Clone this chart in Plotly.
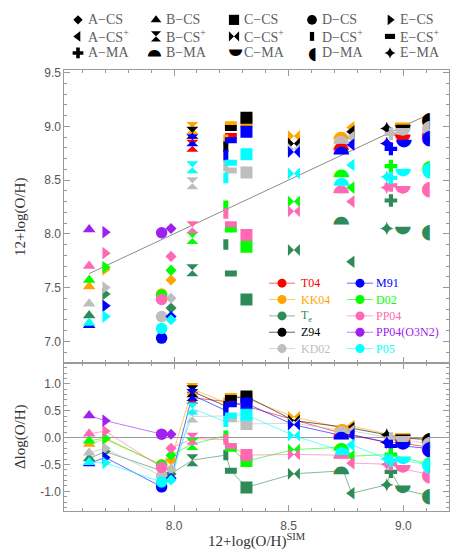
import plotly.graph_objects as go

W, H = 463, 556

# models, in the order of the key at the top, with their simulated 12+log(O/H)
models = ['A−CS', 'B−CS', 'C−CS', 'D−CS', 'E−CS',
          'A−CS<sup>+</sup>', 'B−CS<sup>+</sup>', 'C−CS<sup>+</sup>', 'D−CS<sup>+</sup>', 'E−CS<sup>+</sup>',
          'A−MA', 'B−MA', 'C−MA', 'D−MA', 'E−MA']
sim = [7.987, 7.630, 8.316, 7.946, 7.700,
       8.775, 8.080, 8.523, 8.226, 8.248,
       8.946, 8.738, 8.990, 9.100, 8.928]
symbols = ['diamond', 'triangle-up', 'square', 'circle', 'triangle-right',
           'triangle-left', 'hourglass', 'bowtie', 'line-ns', 'line-ew',
           'cross', 'half-up', 'half-down', 'half-left', 'star-diamond']

# 12+log(O/H) from each calibration, same model order (None = no value)
t04 = [None, None, None, None, None, None, 8.82, None, None, 8.91, None, 8.81, 8.89, 8.93, 8.84]
kk04 = [7.57, 7.51, 9.04, 7.44, 7.67, 8.99, 8.985, 8.91, 8.875, 9.02, None, 8.91, 9.00, 9.06, None]
te = [7.31, 7.24, 7.39, None, 7.44, 7.74, 7.66, 7.85, 7.90, 7.63, 8.31, 8.12, 8.03, 8.03, 8.05]
z94 = [None, None, 9.08, None, None, 8.95, 8.94, 8.84, 8.81, 8.985, None, None, 8.98, 9.07, 8.98]
kd02 = [7.40, 7.35, 8.57, 7.23, 7.50, 8.90, 8.47, 8.79, 8.63, 8.59, 8.93, 8.87, 8.95, 8.99, None]
m91 = [7.23, 7.15, 8.95, 7.03, 7.33, 8.83, 8.87, 8.76, 8.73, 8.87, 8.79, 8.77, 8.84, 8.90, 8.84]
d02 = [7.66, 7.57, 7.88, 7.43, 7.69, 8.43, 7.96, 8.30, 8.26, 8.04, 8.63, 8.56, None, 8.62, None]
pp04 = [7.79, 7.70, 7.99, 7.39, 7.82, 8.30, 8.06, 8.21, 8.19, 8.09, 8.45, 8.41, 8.41, 8.43, 8.43]
o3n2 = [8.05, 8.04, None, 8.01, 8.015, None, None, None, None, None, None, None, None, None, None]
p05 = [7.20, 7.17, 8.74, 7.12, 7.23, 8.64, 8.62, 8.56, 8.52, 8.66, 8.52, 8.48, 8.57, 8.60, 8.53]

methods = ['T04', 'KK04', 'T<sub>e</sub>', 'Z94', 'KD02', 'M91', 'D02', 'PP04', 'PP04(O3N2)', 'P05']
values = [t04, kk04, te, z94, kd02, m91, d02, pp04, o3n2, p05]
colors = ['#ff0000', '#ffa500', '#2e8b57', '#000000', '#bebebe',
          '#0000ff', '#00ff00', '#ff69b4', '#a020f0', '#00ffff']

dy_ticks = [-1.0, -0.5, 0.0, 0.5, 1.0]
dy_labels = ['-1.0', '-0.5', '0.0', '0.5', '1.0']

SIZE = {'diamond': 8.5, 'triangle-up': 11, 'square': 12, 'circle': 11.5, 'triangle-right': 11,
        'triangle-left': 11, 'hourglass': 12, 'bowtie': 12, 'line-ns': 7.5, 'line-ew': 8.5,
        'cross': 10.5, 'star-diamond': 9.5}
STROKE = {'line-ns': 5, 'line-ew': 6}
HALF = {'half-up': 90, 'half-down': -90, 'half-left': 0}  # rotation of the half-disc glyph
FRAME = '#9a9a9a'
SERIF = 'Liberation Serif, Times New Roman, serif'


def px(x):
    return x / W


def py(y):
    return 1 - y / H


def rgba(hex_color, a):
    h = hex_color.lstrip('#')
    return 'rgba(%d,%d,%d,%s)' % (int(h[0:2], 16), int(h[2:4], 16), int(h[4:6], 16), a)


def half_disc(x, y, xref, yref, color, angle, size=20):
    return dict(x=x, y=y, xref=xref, yref=yref, text='◖', showarrow=False, textangle=angle,
                font=dict(family='DejaVu Sans', size=size, color=color),
                xanchor='center', yanchor='middle', borderpad=0)


def marker_style(idx, color, scale=1.0):
    return dict(symbol=[symbols[i] for i in idx],
                size=[SIZE[symbols[i]] * scale for i in idx],
                color=color, opacity=1,
                line=dict(color=color, width=[STROKE.get(symbols[i], 0) * scale for i in idx]))


fig = go.Figure()
annotations = []
order = sorted(range(len(sim)), key=lambda i: sim[i])

# one-to-one line
lo, hi = min(sim), max(sim)
fig.add_trace(go.Scatter(x=[lo, hi], y=[lo, hi], mode='lines',
                         line=dict(color='#8c8c8c', width=1), xaxis='x', yaxis='y'))

# residual lines, ordered by simulated abundance
for vals, col in zip(values, colors):
    idx = [i for i in order if vals[i] is not None]
    fig.add_trace(go.Scatter(x=[sim[i] for i in idx], y=[vals[i] - sim[i] for i in idx],
                             mode='lines', line=dict(color=rgba(col, 0.6), width=1),
                             xaxis='x2', yaxis='y2'))

# symbols in both panels
for vals, col in zip(values, colors):
    idx = [i for i in range(len(sim)) if vals[i] is not None and symbols[i] not in HALF]
    fig.add_trace(go.Scatter(x=[sim[i] for i in idx], y=[vals[i] for i in idx], mode='markers',
                             marker=marker_style(idx, col), xaxis='x', yaxis='y'))
    fig.add_trace(go.Scatter(x=[sim[i] for i in idx], y=[vals[i] - sim[i] for i in idx], mode='markers',
                             marker=marker_style(idx, col), xaxis='x2', yaxis='y2'))
    for i in range(len(sim)):
        if vals[i] is not None and symbols[i] in HALF:
            annotations.append(half_disc(sim[i], vals[i], 'x', 'y', col, HALF[symbols[i]]))
            annotations.append(half_disc(sim[i], vals[i] - sim[i], 'x2', 'y2', col, HALF[symbols[i]]))

# key of models (top), drawn on a pixel-space overlay axis
KEY_X0, KEY_DX, KEY_Y0, KEY_DY = 78, 78, 15, 16.7
key_idx = [i for i in range(len(models)) if symbols[i] not in HALF]
fig.add_trace(go.Scatter(x=[KEY_X0 + (i % 5) * KEY_DX for i in key_idx],
                         y=[KEY_Y0 + (i // 5) * KEY_DY for i in key_idx],
                         mode='markers', marker=marker_style(key_idx, '#000000', 0.85),
                         xaxis='x3', yaxis='y3'))
for i, name in enumerate(models):
    cx = KEY_X0 + (i % 5) * KEY_DX
    cy = KEY_Y0 + (i // 5) * KEY_DY
    if symbols[i] in HALF:
        annotations.append(half_disc(cx, cy, 'x3', 'y3', '#000000', HALF[symbols[i]], 17))
    annotations.append(dict(x=cx + 8, y=cy, xref='x3', yref='y3', text=name, showarrow=False,
                            xanchor='left', yanchor='middle',
                            font=dict(family=SERIF, size=14, color='#606060')))

# key of calibrations (inside upper panel)
M_Y0, M_DY = 280.7, 16.5
M_COLS = [(269, 295, 299), (347, 373, 374)]
for k, (name, col) in enumerate(zip(methods, colors)):
    x0, x1, xt = M_COLS[k // 5]
    yy = M_Y0 + (k % 5) * M_DY
    fig.add_trace(go.Scatter(x=[x0, x1], y=[yy, yy], mode='lines',
                             line=dict(color=rgba(col, 0.6), width=1), xaxis='x3', yaxis='y3'))
    fig.add_trace(go.Scatter(x=[(x0 + x1) / 2], y=[yy], mode='markers',
                             marker=dict(symbol='circle', size=9, color=col), xaxis='x3', yaxis='y3'))
    annotations.append(dict(x=xt, y=yy, xref='x3', yref='y3', text=name, showarrow=False,
                            xanchor='left', yanchor='middle',
                            font=dict(family=SERIF, size=12, color=col)))

# axis titles
title_font = dict(family=SERIF, size=15, color='#333333')
annotations.append(dict(x=px(20), y=py(214), xref='paper', yref='paper', text='12+log(O/H)',
                        textangle=-90, showarrow=False, font=title_font,
                        xanchor='center', yanchor='middle'))
annotations.append(dict(x=px(20), y=py(436), xref='paper', yref='paper', text='Δlog(O/H)',
                        textangle=-90, showarrow=False, font=title_font,
                        xanchor='center', yanchor='middle'))
annotations.append(dict(x=px(257), y=py(540), xref='paper', yref='paper',
                        text='12+log(O/H)<sup>SIM</sup>', showarrow=False, font=title_font,
                        xanchor='center', yanchor='middle'))

tickfont = dict(family='Liberation Sans', size=12, color='#555555')
common = dict(showline=True, mirror='allticks', linecolor=FRAME, linewidth=1,
              ticks='inside', ticklen=6, tickwidth=1, tickcolor=FRAME,
              minor=dict(ticks='inside', ticklen=3, tickcolor=FRAME, tickwidth=1, dtick=0.1),
              showgrid=False, zeroline=False, tickfont=tickfont, fixedrange=True)
xdom = [px(64.3), px(449.3)]
xrange = [7.5216, 9.2006]

fig.update_layout(
    width=W, height=H, margin=dict(l=0, r=0, t=0, b=0),
    paper_bgcolor='white', plot_bgcolor='rgba(0,0,0,0)', showlegend=False,
    xaxis=dict(domain=xdom, range=xrange, anchor='y', tick0=8, dtick=0.5,
               showticklabels=False, **common),
    yaxis=dict(domain=[py(361.7), py(66)], range=[6.794, 9.52], anchor='x', tick0=7, dtick=0.5,
               tickformat='.1f', **common),
    xaxis2=dict(domain=xdom, range=xrange, anchor='y2', tick0=8, dtick=0.5,
                tickformat='.1f', ticklabelstandoff=3, **common),
    yaxis2=dict(domain=[py(511), py(361.7)], range=[-1.373, 1.379], anchor='x2',
                tickmode='array', tickvals=dy_ticks, ticktext=dy_labels, **common),
    xaxis3=dict(domain=[0, 1], range=[0, W], anchor='y3', visible=False, fixedrange=True),
    yaxis3=dict(domain=[0, 1], range=[H, 0], anchor='x3', visible=False, fixedrange=True),
    annotations=annotations,
)
fig.update_yaxes(selector=dict(anchor='x2'), zeroline=True, zerolinecolor=FRAME, zerolinewidth=1,
                 minor=dict(tickmode='linear', tick0=0, dtick=0.1))

fig.write_html("out.html", config={'displayModeBar': False},
               post_script="document.body.style.margin='0px';")
